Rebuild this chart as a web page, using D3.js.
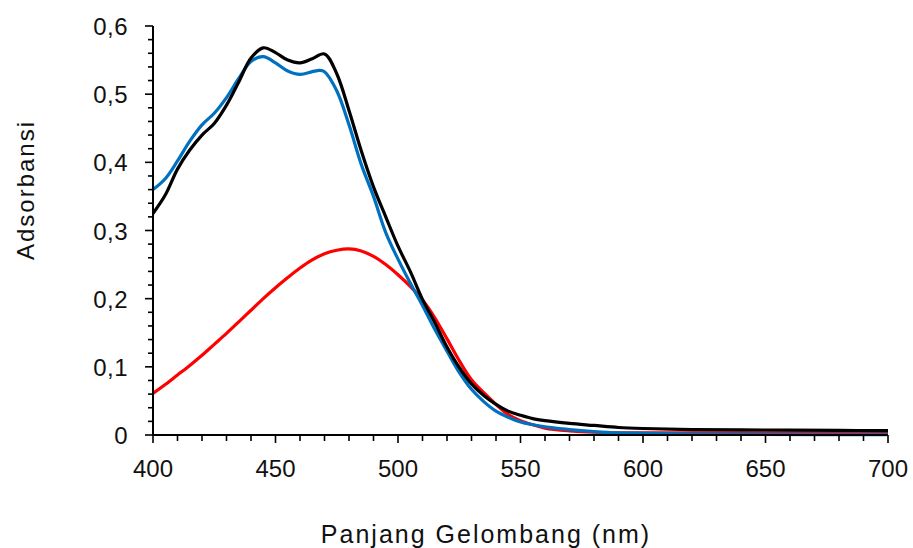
<!DOCTYPE html>
<html>
<head>
<meta charset="utf-8">
<script src="https://cdn.jsdelivr.net/npm/d3@7"></script>
<style>
  html, body { margin: 0; padding: 0; background: #fff; }
  svg { display: block; }
  text { font-family: "Liberation Sans", "DejaVu Sans", sans-serif; fill: #111; }
</style>
</head>
<body>
<svg id="chart" width="913" height="548"></svg>
<script>
// ---------- data ----------
const wlBlack = [400,405,410,415,420,425,430,435,440,445,450,455,460,465,470,475,480,485,490,495,500,505,510,515,520,525,530,535,540,545,550,555,560,570,580,590,600,620,650,680,700];
const absBlack = [0.325,0.352,0.390,0.418,0.440,0.457,0.484,0.518,0.553,0.568,0.561,0.550,0.546,0.552,0.559,0.530,0.476,0.417,0.364,0.320,0.277,0.240,0.199,0.165,0.129,0.099,0.075,0.058,0.045,0.035,0.029,0.024,0.021,0.017,0.014,0.011,0.0095,0.008,0.0073,0.0067,0.0065];

const wlBlue = [400,405,410,415,420,425,430,435,440,445,450,455,460,465,468,470,475,480,485,490,495,500,505,510,515,520,525,530,535,540,545,550,560,570,580,590,600,620,650,700];
const absBlue = [0.360,0.376,0.402,0.431,0.455,0.472,0.495,0.523,0.548,0.555,0.546,0.534,0.529,0.533,0.535,0.533,0.505,0.455,0.397,0.350,0.297,0.258,0.223,0.190,0.155,0.123,0.092,0.067,0.049,0.035,0.026,0.019,0.012,0.008,0.005,0.003,0.0025,0.0012,0.0008,0.0005];

const wlRed = [400,405,410,415,420,425,430,435,440,445,450,455,460,465,470,475,480,485,490,495,500,505,510,515,520,525,530,535,540,545,550,555,560,570,580,600,650,700];
const absRed = [0.061,0.074,0.088,0.102,0.117,0.133,0.149,0.166,0.183,0.200,0.216,0.231,0.245,0.257,0.266,0.271,0.273,0.270,0.262,0.250,0.235,0.218,0.198,0.172,0.141,0.109,0.081,0.062,0.045,0.030,0.021,0.015,0.010,0.006,0.004,0.003,0.003,0.002];

const xTicks = [400,450,500,550,600,650,700];
const yTicks = [0,0.1,0.2,0.3,0.4,0.5,0.6];
const yTickLabels = ["0","0,1","0,2","0,3","0,4","0,5","0,6"];
const xTitle = "Panjang Gelombang (nm)";
const yTitle = "Adsorbansi";

const seriesList = [
  {wl: wlRed, abs: absRed, color: "#FF0000"},
  {wl: wlBlue, abs: absBlue, color: "#0070C0"},
  {wl: wlBlack, abs: absBlack, color: "#000000"}
];

// ---------- layout ----------
const svg = d3.select("#chart");
const padL = 153, padR = 888, padT = 26, padB = 435;

const x = d3.scaleLinear().domain([400, 700]).range([padL, padR]);
const y = d3.scaleLinear().domain([0, 0.6]).range([padB, padT]);

// lines
const line = d3.line()
  .x(d => x(d[0]))
  .y(d => y(d[1]))
  .curve(d3.curveCatmullRom.alpha(0.5));

seriesList.forEach(s => {
  const pts = s.wl.map((w, i) => [w, s.abs[i]]);
  svg.append("path")
    .datum(pts)
    .attr("fill", "none")
    .attr("stroke", s.color)
    .attr("stroke-width", 3.2)
    .attr("stroke-linejoin", "round")
    .attr("d", line);
});

// x axis
const xMinor = d3.range(400, 701, 10);
const gx = svg.append("g");
gx.append("line").attr("x1", padL).attr("x2", padR).attr("y1", padB).attr("y2", padB)
  .attr("stroke", "#000").attr("stroke-width", 2);
gx.selectAll("line.tk").data(xMinor).enter().append("line")
  .attr("class", "tk")
  .attr("x1", d => x(d)).attr("x2", d => x(d))
  .attr("y1", padB).attr("y2", d => (d % 50 === 0 ? padB + 8 : padB + 6))
  .attr("stroke", "#000").attr("stroke-width", 1.6);
gx.selectAll("text").data(xTicks).enter().append("text")
  .attr("x", d => x(d)).attr("y", padB + 42)
  .attr("text-anchor", "middle")
  .attr("font-size", 24)
  .text(d => d);

// y axis
const yMinor = d3.range(0, 31).map(i => i * 0.02);
const gy = svg.append("g");
gy.append("line").attr("x1", padL).attr("x2", padL).attr("y1", padT).attr("y2", padB)
  .attr("stroke", "#000").attr("stroke-width", 2);
gy.selectAll("line.tk").data(yMinor).enter().append("line")
  .attr("class", "tk")
  .attr("y1", d => y(d)).attr("y2", d => y(d))
  .attr("x1", padL).attr("x2", (d, i) => (i % 5 === 0 ? padL - 8 : padL - 5))
  .attr("stroke", "#000").attr("stroke-width", 1.6);
gy.selectAll("text").data(yTicks).enter().append("text")
  .attr("x", padL - 25).attr("y", d => y(d) + 9)
  .attr("text-anchor", "end")
  .attr("font-size", 24)
  .attr("letter-spacing", 0.5)
  .text((d, i) => yTickLabels[i]);

// titles
svg.append("text")
  .attr("x", 486).attr("y", 543)
  .attr("text-anchor", "middle")
  .attr("font-size", 25)
  .attr("letter-spacing", 2)
  .text(xTitle);

svg.append("text")
  .attr("transform", `translate(34, 190) rotate(-90)`)
  .attr("text-anchor", "middle")
  .attr("font-size", 24)
  .attr("letter-spacing", 2)
  .text(yTitle);
</script>
</body>
</html>
